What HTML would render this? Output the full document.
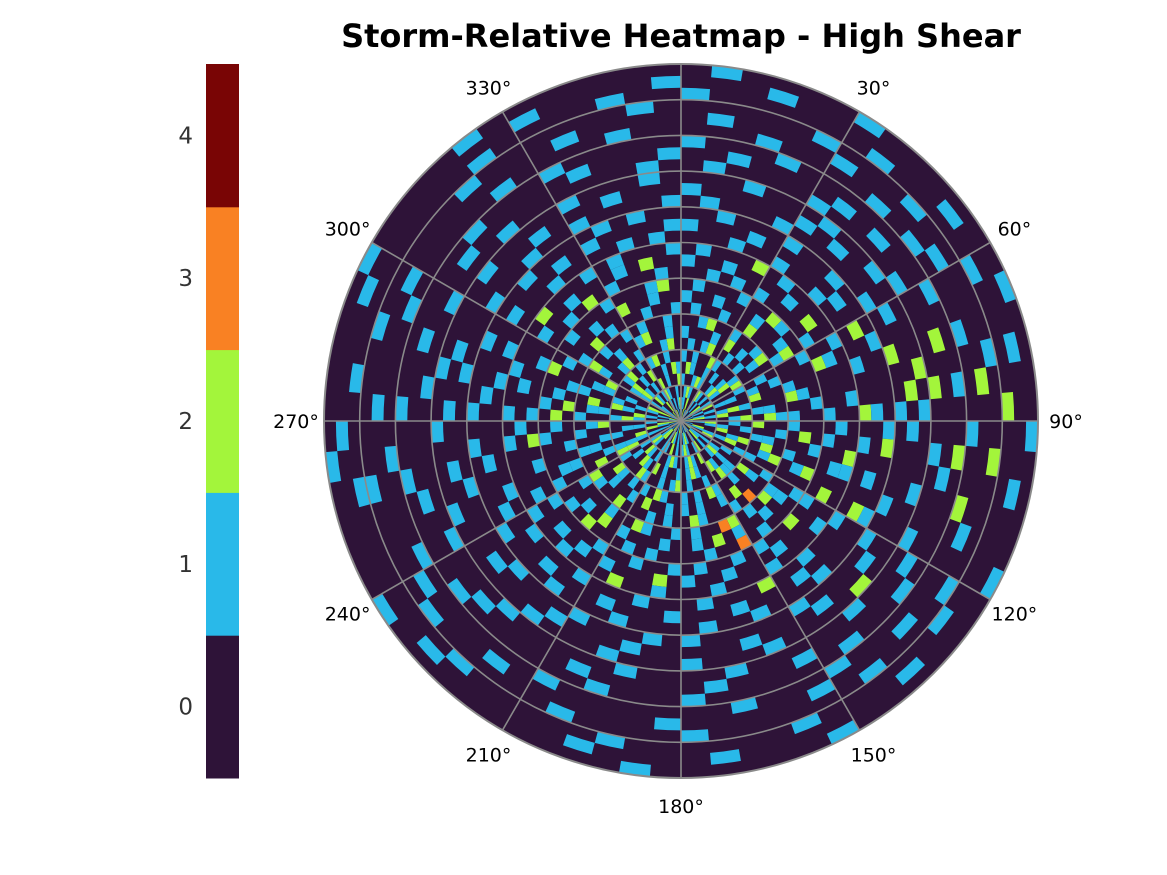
<!DOCTYPE html>
<html><head><meta charset="utf-8"><style>
body{margin:0;background:#fff;}
svg{display:block;font-family:"Liberation Sans","DejaVu Sans",sans-serif;}
</style></head><body>
<svg id="chart" width="1167" height="875" viewBox="0 0 1167 875">
<text x="681" y="47" text-anchor="middle" font-size="32" font-weight="bold" fill="#000" font-family="DejaVu Sans, Liberation Sans, sans-serif">Storm-Relative Heatmap - High Shear</text>
<g id="cells"></g>
<g id="grid"></g>
<g id="colorbar"></g>
</svg>
<script>
const colorLevels = [0,1,2,3,4];
const levelColors = ["#2e1338","#29b9e9","#a3f53b","#f98123","#790505"];
const angleTicks = [0,30,60,90,120,150,180,210,240,270,300,330];
const angleTickLabels = ["","30°","60°","90°","120°","150°","180°","210°","240°","270°","300°","330°"];
const ringValues = [
"102010210012001021201010120010210102120100120101201020012010210201020101",
"110200101021010120100210011201001210010120102210010120101020110020101012",
"012100210101201010210012010102100121010201100121010201010120102101210010",
"100121001210010120012010012100201210012100101201012010120100121010201002",
"021001010120010201100120101012001210100102012010210010201010120102001021",
"101002100012100102010201001120010010210100120001210100102100012010120100",
"010120010100012010201001020100120101001201010120010102010012001201000120",
"100010201010100012001210010020100101010020100100201001012010100100120010",
"001200100120010001010020100301000120010100020012001010100100201001010010",
"010010020001001201100100012010230010100120010001010100020100102010001001",
"100100010012000100020010010100102010010001020100010001201001000100200100",
"010001002100100010001020100010300100001010002010100010010020010001000120",
"001010100001020001010000102001010010100100100001001020100010001020100010",
"100100001020010000100102000010001001020001010100100001001000100100010200",
"010002010000100010002100010001000100010020001001000010100100020001010001",
"000100100100001002010000100100200010001000100010010000001010000100001010",
"100010000010200001000102000010001000100010001000100100010000100010100001",
"001000100100010000120001000100010010000100010001000010100010001000010100",
"010001000001002001000010100001000001010001000100001000001000100100100001",
"100000101000100020100000010010001000001000100010000100100100000010001000",
"000100010010000201000100002000010001000100010000010001001000010000100010",
"010000100001000020010001000100000100001000001000100000010001000100000010",
"001000010100002000001000100000100010000010000100001000000100010000010001",
"100010000000100010020000010010000001000100000010000100100000001000100000",
"000100001010001000100200000001000100000001000000100010000010000010000100",
"010000100001000020000010001000100000100000010001000000100001000000010000",
"000001000100000100020000100010000001000010000010000100000100000100000010",
"100000010000100002000000010000010000001000001000000100010000000010000100",
"000100000010000100001000000100000010000100000100000001000010000000100001",
"010000100000010000100001000000100000010000000001000010000001000010000000"
];
const angleBins = 72;
const NS="http://www.w3.org/2000/svg";
const cx=681, cy=421, R=357;
const rScale = v => v*R;
const aScale = d => (d-90)*Math.PI/180;
function pt(r,d){const a=aScale(d);return [cx+r*Math.cos(a), cy+r*Math.sin(a)];}
function sector(r0,r1,d0,d1){
  const p1=pt(r1,d0),p2=pt(r1,d1),p3=pt(r0,d1),p4=pt(r0,d0);
  return `M${p1[0]},${p1[1]}A${r1},${r1} 0 0 1 ${p2[0]},${p2[1]}L${p3[0]},${p3[1]}A${r0},${r0} 0 0 0 ${p4[0]},${p4[1]}Z`;
}
const cells=document.getElementById('cells');
const bg=document.createElementNS(NS,'circle');
bg.setAttribute('cx',cx);bg.setAttribute('cy',cy);bg.setAttribute('r',R);bg.setAttribute('fill',levelColors[0]);


cells.appendChild(bg);
const nR=ringValues.length;
ringValues.forEach((row,j)=>{
  for(let i=0;i<angleBins;i++){
    const v=+(row[i]||0);
    if(!v) continue;
    const p=document.createElementNS(NS,'path');
    p.setAttribute('d',sector(rScale(j/nR),rScale((j+1)/nR),i*360/angleBins,(i+1)*360/angleBins));
    p.setAttribute('fill',levelColors[v]);
    
    
    cells.appendChild(p);
  }
});
const grid=document.getElementById('grid');
for(let k=1;k<=10;k++){
  const c=document.createElementNS(NS,'circle');
  c.setAttribute('cx',cx);c.setAttribute('cy',cy);c.setAttribute('r',rScale(k/10));
  c.setAttribute('fill','none');c.setAttribute('stroke','#8a8a8a');c.setAttribute('stroke-width',k==10?2:1.6);
  
  
  grid.appendChild(c);
}
angleTicks.forEach((d,i)=>{
  const [x,y]=pt(R,d);
  const l=document.createElementNS(NS,'line');
  l.setAttribute('x1',cx);l.setAttribute('y1',cy);l.setAttribute('x2',x);l.setAttribute('y2',y);
  l.setAttribute('stroke','#8a8a8a');l.setAttribute('stroke-width',1.6);
  
  
  grid.appendChild(l);
  if(!angleTickLabels[i]) return;
  const [tx,ty]=pt(R+28,d);
  const t=document.createElementNS(NS,'text');
  t.setAttribute('x',tx);t.setAttribute('y',ty+7);t.setAttribute('text-anchor','middle');
  t.setAttribute('font-size','19');t.setAttribute('fill','#000');
  t.setAttribute('font-family','DejaVu Sans, Liberation Sans, sans-serif');
  t.textContent=angleTickLabels[i];
  
  
  grid.appendChild(t);
});
const cb=document.getElementById('colorbar');
const cbX=206,cbW=33,cbTop=64,cbBot=778;
const cbMin=-0.5,cbMax=4.5;
const yCb=v=>cbBot-(v-cbMin)/(cbMax-cbMin)*(cbBot-cbTop);
colorLevels.forEach((v,i)=>{
  const r=document.createElementNS(NS,'rect');
  r.setAttribute('x',cbX);r.setAttribute('y',yCb(v+0.5));r.setAttribute('width',cbW);
  r.setAttribute('height',yCb(v-0.5)-yCb(v+0.5)+0.5);r.setAttribute('fill',levelColors[i]);
  
  
  cb.appendChild(r);
  const t=document.createElementNS(NS,'text');
  t.setAttribute('x',193);t.setAttribute('y',yCb(v)+8);t.setAttribute('text-anchor','end');
  t.setAttribute('font-size','23');t.setAttribute('fill','#333');
  t.setAttribute('font-family','DejaVu Sans, Liberation Sans, sans-serif');
  t.textContent=v;
  
  
  cb.appendChild(t);
});
</script>
</body></html>
